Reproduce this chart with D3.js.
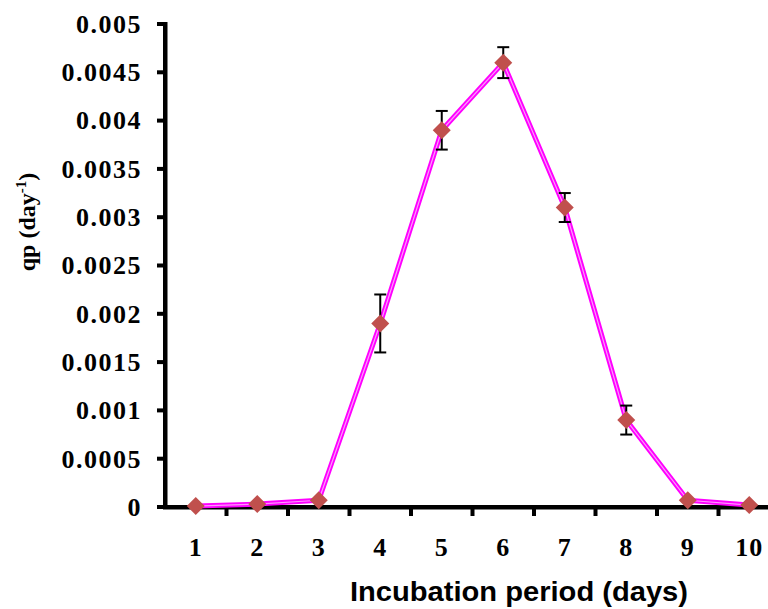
<!DOCTYPE html>
<html><head><meta charset="utf-8">
<script src="https://cdn.jsdelivr.net/npm/d3@7"></script>
<style>body{margin:0;background:#fff}svg{display:block}</style>
</head><body>
<script>
const days = ["1","2","3","4","5","6","7","8","9","10"];
const qp = [0.00001, 0.00003, 0.00007, 0.0019, 0.0039, 0.0046, 0.0031, 0.0009, 0.00007, 0.00002];
const errs = [0, 0, 0, 0.0003, 0.0002, 0.00016, 0.00015, 0.00015, 0, 0];
const yTicks = [0,0.0005,0.001,0.0015,0.002,0.0025,0.003,0.0035,0.004,0.0045,0.005];
const yTickLabels = ["0","0.0005","0.001","0.0015","0.002","0.0025","0.003","0.0035","0.004","0.0045","0.005"];

const W = 768, H = 609;
const svg = d3.select("body").append("svg").attr("width", W).attr("height", H);
const x = d3.scaleBand().domain(days).range([165, 780]);
const y = d3.scaleLinear().domain([0, 0.005]).range([507, 24]);
const serif = "'Liberation Serif','Times New Roman',serif";

// y axis
const ya = svg.append("g").attr("transform", "translate(165,0)")
  .call(d3.axisLeft(y).tickValues(yTicks).tickFormat((d,i)=>yTickLabels[i]).tickSize(0).tickPadding(23));
ya.select(".domain").remove();
ya.selectAll(".tick text").attr("font-family",serif).attr("font-weight","bold").attr("font-size",26)
  .attr("letter-spacing",1.5).attr("fill","#000");
// y tick marks
svg.append("g").selectAll("rect").data(yTicks).join("rect")
  .attr("x",157).attr("y",d=>y(d)-2).attr("width",10).attr("height",4).attr("fill","#000");
// y axis line
svg.append("rect").attr("x",163).attr("y",y(0.005)-2).attr("width",4.5).attr("height",y(0)-y(0.005)+4).attr("fill","#000");

// x axis
const xa = svg.append("g").attr("transform", "translate(0,507)")
  .call(d3.axisBottom(x).tickSize(0).tickPadding(31));
xa.select(".domain").remove();
xa.selectAll(".tick text").attr("font-family",serif).attr("font-weight","bold").attr("font-size",26)
  .attr("letter-spacing",1).attr("fill","#000");
svg.append("rect").attr("x",163).attr("y",y(0)-2).attr("width",620).attr("height",4.5).attr("fill","#000");
// tick marks between categories
const bounds = days.map((d)=>x(d));
svg.append("g").selectAll("rect").data(bounds.slice(1)).join("rect")
  .attr("x",d=>d-2).attr("y",507).attr("width",4).attr("height",9).attr("fill","#000");

const cx = d => x(d) + x.bandwidth()/2;

// line
const line = d3.line().x((d,i)=>cx(days[i])).y(d=>y(d));
svg.append("path").datum(qp).attr("d",line).attr("fill","none").attr("stroke","#ff00ff").attr("stroke-width",5).attr("stroke-linejoin","round");
svg.append("path").datum(qp).attr("d",line).attr("fill","none").attr("stroke","#ff99ff").attr("stroke-width",1.2).attr("stroke-linejoin","round");

// error bars
const eb = svg.append("g");
days.forEach((d,i)=>{
  if(!errs[i]) return;
  const X = cx(d), t = y(qp[i]+errs[i]), b = y(qp[i]-errs[i]);
  eb.append("line").attr("x1",X).attr("x2",X).attr("y1",t).attr("y2",b).attr("stroke","#000").attr("stroke-width",2);
  eb.append("line").attr("x1",X-6).attr("x2",X+6).attr("y1",t).attr("y2",t).attr("stroke","#000").attr("stroke-width",2);
  eb.append("line").attr("x1",X-6).attr("x2",X+6).attr("y1",b).attr("y2",b).attr("stroke","#000").attr("stroke-width",2);
});

// markers
svg.append("g").selectAll("path").data(qp).join("path")
  .attr("d",(d)=>"M0,-9L9,0L0,9L-9,0Z")
  .attr("transform",(d,i)=>`translate(${cx(days[i])},${y(d)})`)
  .attr("fill","#c0504d");

// axis titles
svg.append("text").attr("x",519).attr("y",601).attr("text-anchor","middle")
  .attr("font-family","'Liberation Sans',Arial,sans-serif").attr("font-weight","bold").attr("font-size",27)
  .attr("textLength",338).attr("lengthAdjust","spacingAndGlyphs").attr("fill","#000")
  .text("Incubation period (days)");
const yl = svg.append("text").attr("transform","translate(35,222) rotate(-90)").attr("text-anchor","middle")
  .attr("font-family",serif).attr("font-weight","bold").attr("font-size",24).attr("fill","#000");
yl.append("tspan").text("qp (day");
yl.append("tspan").attr("font-size",15).attr("dy",-9).text("-1");
yl.append("tspan").attr("dy",9).text(")");
</script>
</body></html>
